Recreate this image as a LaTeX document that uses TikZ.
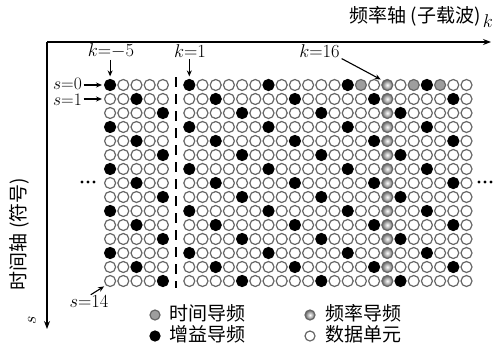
\RequirePackage{fix-cm}
\documentclass[tikz,border=0pt]{standalone}
\usepackage{fontspec}
\newfontfamily\cjk{Noto Sans CJK SC}
\usetikzlibrary{arrows.meta}
\tikzset{
  cell/.style={circle, minimum size=11pt, inner sep=0pt, line width=1.2pt, draw=black!60},
  data/.style={cell, fill=white},
  gain/.style={cell, draw=black, fill=black},
  timep/.style={cell, fill=black!38},
  freqp/.style={cell, inner color=white, outer color=black!60},
  lgcell/.style={minimum size=10pt},
  mathlbl/.style={inner sep=0pt, font=\fontsize{18.5}{20}\selectfont},
  smalllbl/.style={inner sep=0pt, font=\fontsize{17.5}{19}\selectfont},
  cjklbl/.style={inner sep=0pt, font=\cjk\fontsize{19}{21}\selectfont},
  arr/.style={line width=1.1pt, -{Stealth[length=6pt,width=5pt]}},
  axis/.style={line width=1.2pt, -{Stealth[length=8pt,width=6pt]}},
  dcline/.style={line width=1.8pt, dash pattern=on 10pt off 7pt},
  dotc/.style={circle, fill=black, inner sep=0pt, minimum size=3.2pt},
}
\begin{document}
\begin{tikzpicture}[x=1pt,y=-1pt]
\useasboundingbox (0,0) rectangle (502,345);
% axes
\coordinate (O) at (47,42);
\coordinate (kx) at (491,42);
\coordinate (sy) at (47,329);
\draw[axis] (O) -- (kx);
\draw[axis] (O) -- (sy);
\node[cjklbl, anchor=east] (ktitle) at (481,16.5) {频率轴 (子载波)};
\node[mathlbl] (kvar) at (488,21) {$k$};
\node[cjklbl, rotate=90] (stitle) at (19,234) {时间轴 (符号)};
\node[inner sep=0pt, rotate=90, font=\fontsize{18}{20}\selectfont] (svar) at (32,320) {$s$};
% grid
\foreach \s in {0,...,14}{
  \foreach \i in {0,...,27}{
    \ifnum\i=5\relax\else
      \pgfmathtruncatemacro\kk{\i-5}
      \pgfmathtruncatemacro\r{mod(\kk+29-2*mod(\s,3),6)}
      \def\typ{data}
      \ifnum\kk=16 \def\typ{freqp}\fi
      \ifnum\s=0
        \ifnum\kk=14 \def\typ{timep}\fi
        \ifnum\kk=18 \def\typ{timep}\fi
        \ifnum\kk=20 \def\typ{timep}\fi
      \fi
      \ifnum\r=0 \def\typ{gain}\fi
      \node[\typ] (c\s n\i) at ({176.1+13.2*\kk},{85+14*\s}) {};
    \fi
  }
}
% DC dashed line
\coordinate (dtop) at (176.1,77);
\coordinate (dbot) at (176.1,288);
\draw[dcline] (dtop) -- (dbot);
% labels with arrows
\node[mathlbl] (lkm5) at (111,51) {$k{=}{-}5$};
\draw[arr, shorten >=2.5pt, shorten <=1.5pt] (lkm5.south -| c0n0) -- (c0n0.north);
\node[mathlbl] (lk1) at (190,51) {$k{=}1$};
\draw[arr, shorten >=2.5pt, shorten <=1.5pt] (lk1.south -| c0n6) -- (c0n6.north);
\node[mathlbl] (lk16) at (319.5,51) {$k{=}16$};
\draw[arr, shorten >=2.5pt, shorten <=2pt] (lk16.south east) -- (c0n21.north west);
\node[smalllbl, anchor=east] (ls0) at (82,83.5) {$s{=}0$};
\draw[arr, shorten >=2pt, shorten <=1.5pt] (ls0.east |- c0n0) -- (c0n0.west);
\node[smalllbl, anchor=east] (ls1) at (82,100) {$s{=}1$};
\draw[arr, shorten >=2pt, shorten <=1.5pt] (ls1.east |- c1n0) -- (c1n0.west);
\node[mathlbl] (ls14) at (89,302) {$s{=}14$};
\draw[arr, shorten >=2pt, shorten <=2pt] (ls14.north) -- (c14n0.south west);
% ellipses
\node[dotc] (ld1) at (82,182) {};
\node[dotc] (ld2) at (88,182) {};
\node[dotc] (ld3) at (94,182) {};
\node[dotc] (rd1) at (479,182) {};
\node[dotc] (rd2) at (485,182) {};
\node[dotc] (rd3) at (491,182) {};
% legend
\node[timep, lgcell] (lg1) at (155,315) {};
\node[cjklbl, anchor=west] (lg1t) at (169,313) {时间导频};
\node[gain, lgcell] (lg2) at (155,336) {};
\node[cjklbl, anchor=west] (lg2t) at (169,334) {增益导频};
\node[freqp, lgcell] (lg3) at (310,315) {};
\node[cjklbl, anchor=west] (lg3t) at (325,313) {频率导频};
\node[data, lgcell] (lg4) at (310,336) {};
\node[cjklbl, anchor=west] (lg4t) at (325,334) {数据单元};
\end{tikzpicture}
\end{document}
